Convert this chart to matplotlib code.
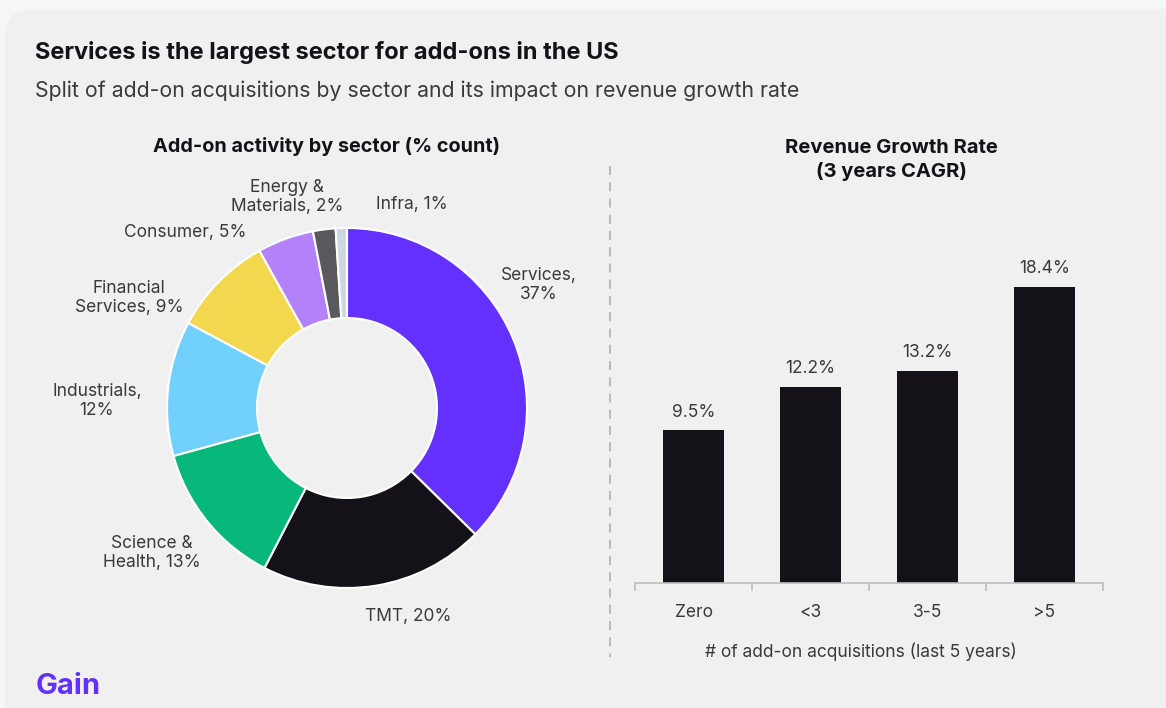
import matplotlib
matplotlib.use("Agg")
import matplotlib.pyplot as plt
from matplotlib.patches import FancyBboxPatch
from matplotlib.lines import Line2D

# ---- data ----
sectors = ["Services", "TMT", "Science &\nHealth", "Industrials", "Financial\nServices",
           "Consumer", "Energy &\nMaterials", "Infra"]
sector_share = [37, 20, 13, 12, 9, 5, 2, 1]
sector_labels = ["Services,\n37%", "TMT, 20%", "Science &\nHealth, 13%", "Industrials,\n12%",
                 "Financial\nServices, 9%", "Consumer, 5%", "Energy &\nMaterials, 2%", "Infra, 1%"]
sector_colors = ["#6430ff", "#141218", "#08b87a", "#72d0fc", "#f2d74f",
                 "#b382fa", "#59595d", "#ccd8e0"]

groups = ["Zero", "<3", "3-5", ">5"]
growth = [9.5, 12.2, 13.2, 18.4]

W, H = 1166, 708
plt.rcParams["font.family"] = ["Inter", "DejaVu Sans"]
TXT = "#3a3a3a"

fig = plt.figure(figsize=(W / 100, H / 100), dpi=100)
fig.patch.set_facecolor("#f5f6f6")

# background card in pixel coordinates
bg = fig.add_axes([0, 0, 1, 1])
bg.set_xlim(0, W)
bg.set_ylim(H, 0)
bg.axis("off")
bg.add_patch(FancyBboxPatch((5, 9), W + 40, H + 40,
                            boxstyle="round,pad=0,rounding_size=28",
                            facecolor="#f0f0f0", edgecolor="none"))

bg.text(35, 53, "Services is the largest sector for add-ons in the US",
        fontsize=17, fontweight="bold", color="#141218", va="center", ha="left")
bg.text(35, 91, "Split of add-on acquisitions by sector and its impact on revenue growth rate",
        fontsize=15.3, color="#3a3a3a", va="center", ha="left")
bg.text(327, 146, "Add-on activity by sector (% count)", fontsize=14.3,
        fontweight="bold", color="#141218", va="center", ha="center")
bg.text(891, 160, "Revenue Growth Rate\n(3 years CAGR)", fontsize=14.5,
        fontweight="bold", color="#141218", va="center", ha="center", linespacing=1.3)
bg.add_line(Line2D([610, 610], [166, 657], color="#b5b5b5", lw=1.3,
                   linestyle=(0, (5, 4))))
bg.text(36, 686, "Gain", fontsize=21, fontweight="bold", color="#6430ff",
        va="center", ha="left")

# donut chart
cx, cy, r = 347, 408, 180
pie_ax = fig.add_axes([(cx - r) / W, (H - cy - r) / H, 2 * r / W, 2 * r / H])
pie_ax.pie(sector_share, colors=sector_colors, startangle=90, counterclock=False,
           radius=1.0, wedgeprops=dict(width=0.5, edgecolor="white", linewidth=1.5))
pie_ax.set_xlim(-1, 1)
pie_ax.set_ylim(-1, 1)
pie_ax.set_aspect("equal")
pie_ax.axis("off")

label_pos = [(539, 285), (408, 616), (152, 553), (97, 401), (129, 298),
             (185, 233), (287, 197), (412, 204)]
for lbl, (x, y) in zip(sector_labels, label_pos):
    bg.text(x, y, lbl, fontsize=12.5, color=TXT, ha="center", va="center", linespacing=1.15)

# bar chart
x0, x1, base, top = 635, 1103, 583, 200
units_top = (base - top) / (296 / 18.4)
bar_ax = fig.add_axes([x0 / W, (H - base) / H, (x1 - x0) / W, (base - top) / H])
bar_ax.set_facecolor("none")
pos = list(range(len(groups)))
bars = bar_ax.bar(pos, growth, width=0.52, color="#141218")
for p, v in zip(pos, growth):
    bar_ax.text(p, v + 0.6, f"{v}%", ha="center", va="bottom", fontsize=12.5, color=TXT)
bar_ax.set_xlim(-0.5, len(groups) - 0.5)
bar_ax.set_ylim(0, units_top)
for s in ["top", "right", "left"]:
    bar_ax.spines[s].set_visible(False)
bar_ax.spines["bottom"].set_color("#bdbdbd")
bar_ax.spines["bottom"].set_linewidth(1.2)
bar_ax.set_yticks([])
bar_ax.set_xticks(pos)
bar_ax.set_xticklabels(groups, fontsize=12.5, color=TXT)
bar_ax.tick_params(axis="x", which="major", length=0, pad=15)
bar_ax.set_xticks([p - 0.5 for p in range(len(groups) + 1)], minor=True)
bar_ax.tick_params(axis="x", which="minor", length=6, color="#bdbdbd", width=1.2)
bar_ax.set_xlabel("# of add-on acquisitions (last 5 years)", fontsize=12.5,
                  color=TXT, labelpad=15)
bar_ax.xaxis.set_label_coords(0.483, -0.155)

fig.savefig("out.png", dpi=100, facecolor=fig.get_facecolor())
